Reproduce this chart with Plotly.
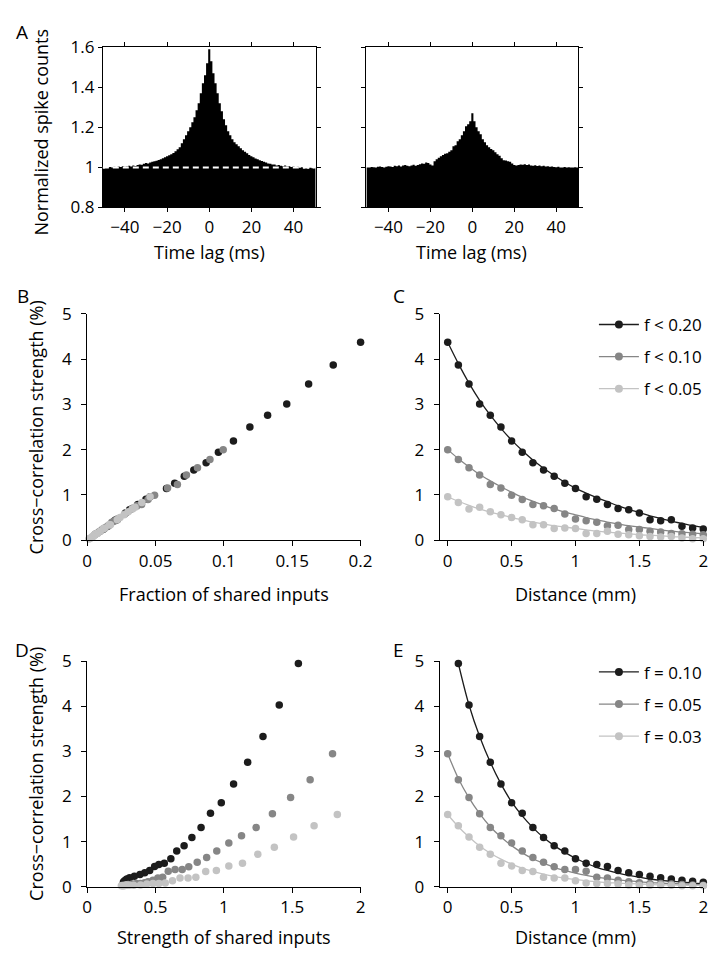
import plotly.graph_objects as go

W, H = 718, 958
FONT = "Open Sans"

# ---- panel A: cross-correlograms (1 ms bins, -50..50 ms) ----
lags = list(range(-50, 51))
ccg_strong = [
    0.995, 0.998, 1.000, 1.002, 0.999, 1.003, 1.001, 1.004, 1.002, 1.006,
    1.003, 1.005, 1.008, 1.004, 1.010, 1.007, 1.012, 1.015, 1.013, 1.018,
    1.022, 1.020, 1.025, 1.028, 1.030, 1.033, 1.037, 1.040, 1.046, 1.050,
    1.055, 1.060, 1.066, 1.072, 1.080, 1.090, 1.100, 1.120, 1.140, 1.160,
    1.180, 1.200, 1.225, 1.250, 1.285, 1.320, 1.370, 1.420, 1.460, 1.520,
    1.590,
    1.530, 1.470, 1.420, 1.370, 1.320, 1.280, 1.240, 1.210, 1.180, 1.160,
    1.140, 1.125, 1.115, 1.105, 1.095, 1.085, 1.078, 1.070, 1.062, 1.055,
    1.050, 1.044, 1.040, 1.035, 1.032, 1.028, 1.024, 1.020, 1.018, 1.014,
    1.015, 1.010, 1.012, 1.008, 1.006, 1.009, 1.004, 1.006, 1.002, 1.004,
    1.000, 1.003, 0.998, 1.001, 0.995, 0.997, 0.993, 0.998, 0.996, 1.000,
]
ccg_weak = [
    1.000, 1.000, 1.002, 1.001, 1.000, 1.003, 1.004, 1.002, 0.999, 1.003,
    1.006, 1.004, 1.002, 1.008, 1.006, 1.010, 1.005, 1.009, 1.012, 1.008,
    1.006, 1.010, 1.013, 1.008, 1.012, 1.016, 1.020, 1.018, 1.024, 1.022,
    1.015, 1.010, 1.030, 1.040, 1.048, 1.055, 1.062, 1.068, 1.070, 1.078,
    1.085, 1.105, 1.110, 1.130, 1.140, 1.160, 1.180, 1.205, 1.215, 1.230,
    1.270,
    1.230, 1.200, 1.180, 1.165, 1.140, 1.125, 1.110, 1.100, 1.092, 1.085,
    1.075, 1.065, 1.058, 1.045, 1.036, 1.034, 1.030, 1.028, 1.020, 1.012,
    1.010, 1.012, 1.015, 1.013, 1.016, 1.012, 1.014, 1.010, 1.008, 1.011,
    1.007, 1.009, 1.006, 1.008, 1.004, 1.006, 1.003, 1.005, 1.002, 1.001,
    1.003, 1.000, 0.999, 1.002, 1.000, 1.001, 0.999, 1.000, 1.001, 1.000,
]

# ---- panels B/C: distance dependence for three fraction cutoffs ----
distance = [i / 12 for i in range(25)]
c_f20 = [4.37, 3.87, 3.45, 3.01, 2.76, 2.50, 2.19, 1.94, 1.71, 1.55, 1.41, 1.26, 1.14,
         0.96, 0.905, 0.79, 0.70, 0.67, 0.60, 0.45, 0.43, 0.45, 0.31, 0.27, 0.25]
c_f10 = [2.00, 1.78, 1.60, 1.44, 1.23, 1.15, 0.99, 0.90, 0.79, 0.76, 0.70, 0.58, 0.47,
         0.43, 0.395, 0.32, 0.33, 0.235, 0.235, 0.20, 0.18, 0.15, 0.14, 0.13, 0.12]
c_f05 = [0.96, 0.83, 0.69, 0.73, 0.63, 0.56, 0.50, 0.45, 0.34, 0.34, 0.26, 0.27, 0.26,
         0.15, 0.15, 0.20, 0.13, 0.12, 0.10, 0.08, 0.07, 0.08, 0.05, 0.03, 0.03]
fit_f20 = [4.37, 3.90, 3.47, 3.09, 2.76, 2.47, 2.21, 1.98, 1.77, 1.59, 1.43, 1.28, 1.15,
           1.04, 0.94, 0.85, 0.76, 0.68, 0.61, 0.54, 0.48, 0.42, 0.37, 0.32, 0.28]
fit_f10 = [2.00, 1.80, 1.62, 1.45, 1.31, 1.18, 1.06, 0.95, 0.86, 0.77, 0.69, 0.62, 0.56,
           0.50, 0.45, 0.40, 0.36, 0.32, 0.29, 0.26, 0.23, 0.20, 0.18, 0.16, 0.14]
fit_f05 = [0.96, 0.86, 0.77, 0.69, 0.62, 0.56, 0.50, 0.45, 0.40, 0.36, 0.32, 0.29, 0.26,
           0.23, 0.20, 0.18, 0.16, 0.14, 0.12, 0.11, 0.10, 0.08, 0.07, 0.06, 0.05]
frac_f20 = [0.200, 0.180, 0.162, 0.146, 0.132, 0.119, 0.107, 0.096, 0.087, 0.078, 0.071, 0.064,
            0.058, 0.046, 0.043, 0.037, 0.033, 0.031, 0.028, 0.021, 0.020, 0.022, 0.015, 0.013, 0.012]
frac_f10 = [0.0995, 0.0898, 0.0807, 0.0726, 0.066, 0.0588, 0.0493, 0.0445, 0.0398, 0.0365,
            0.033, 0.0275, 0.022, 0.020, 0.018, 0.0155, 0.016, 0.0115, 0.011, 0.0095,
            0.0085, 0.007, 0.0065, 0.006, 0.0055]
frac_f05 = [0.046, 0.040, 0.033, 0.035, 0.030, 0.027, 0.024, 0.022, 0.017, 0.016, 0.012, 0.013,
            0.012, 0.007, 0.0075, 0.0095, 0.006, 0.0055, 0.005, 0.004, 0.0035, 0.004, 0.0025,
            0.0015, 0.0015]

# ---- panels D/E: distance dependence for fixed fractions ----
dist_e10 = distance[1:]
e_f10 = [4.95, 4.03, 3.33, 2.76, 2.28, 1.86, 1.63, 1.31, 1.09, 0.91, 0.79, 0.62,
         0.52, 0.49, 0.45, 0.36, 0.31, 0.27, 0.23, 0.20, 0.17, 0.14, 0.12, 0.10]
e_f05 = [2.95, 2.37, 1.98, 1.62, 1.31, 1.13, 0.97, 0.79, 0.645, 0.54, 0.44, 0.38, 0.38,
         0.34, 0.21, 0.19, 0.14, 0.11, 0.09, 0.07, 0.07, 0.06, 0.05, 0.04, 0.03]
e_f03 = [1.60, 1.35, 1.10, 0.875, 0.72, 0.52, 0.46, 0.36, 0.335, 0.21, 0.19, 0.19, 0.13,
         0.08, 0.07, 0.07, 0.06, 0.04, 0.03, 0.03, 0.04, 0.03, 0.02, 0.02, 0.02]
efit_f10 = [4.95, 4.03, 3.33, 2.76, 2.28, 1.88, 1.57, 1.31, 1.09, 0.91, 0.76, 0.63,
            0.52, 0.43, 0.36, 0.30, 0.25, 0.21, 0.17, 0.14, 0.12, 0.10, 0.08, 0.07]
efit_f05 = [2.95, 2.40, 1.97, 1.62, 1.33, 1.10, 0.91, 0.75, 0.62, 0.52, 0.43, 0.36, 0.30,
            0.25, 0.21, 0.18, 0.15, 0.13, 0.11, 0.09, 0.08, 0.07, 0.06, 0.05, 0.04]
efit_f03 = [1.60, 1.33, 1.10, 0.90, 0.74, 0.61, 0.50, 0.41, 0.34, 0.28, 0.23, 0.19, 0.16,
            0.13, 0.11, 0.09, 0.08, 0.07, 0.06, 0.05, 0.04, 0.04, 0.03, 0.03, 0.03]
strength_f10 = [1.545, 1.405, 1.286, 1.174, 1.071, 0.981, 0.902, 0.833, 0.766, 0.709, 0.655, 0.612,
                0.564, 0.524, 0.493, 0.457, 0.421, 0.386, 0.345, 0.31, 0.29, 0.279, 0.27, 0.265]
strength_f05 = [1.795, 1.631, 1.488, 1.355, 1.236, 1.129, 1.036, 0.948, 0.874, 0.805, 0.743, 0.695,
                0.643, 0.593, 0.552, 0.517, 0.481, 0.445, 0.42, 0.39, 0.36, 0.33, 0.30, 0.28, 0.26]
strength_f03 = [1.83, 1.66, 1.51, 1.369, 1.248, 1.136, 1.036, 0.945, 0.867, 0.795, 0.738, 0.679,
                0.624, 0.571, 0.524, 0.481, 0.436, 0.39, 0.34, 0.31, 0.29, 0.28, 0.27, 0.26, 0.25]

legend_c = ["f < 0.20", "f < 0.10", "f < 0.05"]
legend_e = ["f = 0.10", "f = 0.05", "f = 0.03"]

DARK, MID, LIGHT = "#1c1c1c", "#868686", "#c3c3c3"


def dom_x(p0, p1):
    return [p0 / W, p1 / W]


def dom_y(top, bottom):
    return [1 - bottom / H, 1 - top / H]


fig = go.Figure()

# A: histograms drawn as filled steps (bin edges at lag +/- 0.5)
for ax, vals in (("", ccg_strong), ("2", ccg_weak)):
    edges = [lag - 0.5 for lag in lags] + [lags[-1] + 0.5]
    fig.add_trace(go.Scatter(x=edges, y=vals + vals[-1:], mode="lines", line=dict(width=0, shape="hv"),
                             fill="tozeroy", fillcolor="black",
                             xaxis="x" + ax, yaxis="y" + ax, showlegend=False))

# B: strength vs fraction
for xs, ys, col in ((frac_f20, c_f20, DARK), (frac_f10, c_f10, MID), (frac_f05, c_f05, LIGHT)):
    fig.add_trace(go.Scatter(x=xs, y=ys, mode="markers", marker=dict(size=7.5, color=col),
                             xaxis="x3", yaxis="y3", showlegend=False, cliponaxis=False))

# C: strength vs distance with fits
for ys, fit, col, name in ((c_f20, fit_f20, DARK, legend_c[0]), (c_f10, fit_f10, MID, legend_c[1]),
                           (c_f05, fit_f05, LIGHT, legend_c[2])):
    fig.add_trace(go.Scatter(x=distance, y=fit, mode="lines", line=dict(color=col, width=1.3, shape="spline"),
                             xaxis="x4", yaxis="y4", showlegend=False, cliponaxis=False))
    fig.add_trace(go.Scatter(x=distance, y=ys, mode="markers", marker=dict(size=7.5, color=col),
                             xaxis="x4", yaxis="y4", showlegend=False, cliponaxis=False))
    fig.add_trace(go.Scatter(x=[None], y=[None], mode="lines+markers", name=name,
                             line=dict(color=col, width=1.3), marker=dict(size=8, color=col),
                             xaxis="x4", yaxis="y4", legend="legend", legendgroup=name))

# D: strength vs strength of shared inputs
for xs, ys, col in ((strength_f10, e_f10, DARK), (strength_f05, e_f05, MID), (strength_f03, e_f03, LIGHT)):
    fig.add_trace(go.Scatter(x=xs, y=ys, mode="markers", marker=dict(size=7.5, color=col),
                             xaxis="x5", yaxis="y5", showlegend=False, cliponaxis=False))

# E: strength vs distance with fits
for xs, ys, fit, col, name in ((dist_e10, e_f10, efit_f10, DARK, legend_e[0]),
                               (distance, e_f05, efit_f05, MID, legend_e[1]),
                               (distance, e_f03, efit_f03, LIGHT, legend_e[2])):
    fig.add_trace(go.Scatter(x=xs, y=fit, mode="lines", line=dict(color=col, width=1.3, shape="spline"),
                             xaxis="x6", yaxis="y6", showlegend=False, cliponaxis=False))
    fig.add_trace(go.Scatter(x=xs, y=ys, mode="markers", marker=dict(size=7.5, color=col),
                             xaxis="x6", yaxis="y6", showlegend=False, cliponaxis=False))
    fig.add_trace(go.Scatter(x=[None], y=[None], mode="lines+markers", name=name,
                             line=dict(color=col, width=1.3), marker=dict(size=8, color=col),
                             xaxis="x6", yaxis="y6", legend="legend2", legendgroup=name))

tickfont = dict(family=FONT, size=17, color="black")
box_axis = dict(showline=True, linecolor="black", linewidth=1, mirror="ticks", ticks="outside",
                ticklen=4, tickcolor="black", showgrid=False, zeroline=False, tickfont=tickfont)
open_axis = dict(showline=True, linecolor="black", linewidth=1.2, ticks="outside", ticklen=5,
                 tickcolor="black", tickwidth=1.2, showgrid=False, zeroline=False, tickfont=tickfont)

cc_ticks = dict(tickvals=[0, 1, 2, 3, 4, 5], range=[0, 5])
dist_ticks = dict(tickvals=[0, 0.5, 1, 1.5, 2], ticktext=["0", "0.5", "1", "1.5", "2"], range=[-0.063, 2])


def axis(base, **kw):
    out = dict(base)
    out.update(kw)
    return out


legend_style = dict(xanchor="left", yanchor="top", bgcolor="rgba(0,0,0,0)",
                    font=dict(family=FONT, size=17, color="black"), tracegroupgap=7, itemwidth=40)

fig.update_layout(
    width=W, height=H, margin=dict(l=0, r=0, t=0, b=0),
    plot_bgcolor="white", paper_bgcolor="white",
    font=dict(family=FONT, size=17, color="black"),
    xaxis=axis(box_axis, domain=dom_x(92, 310), range=[-50.5, 50.5], tickvals=[-40, -20, 0, 20, 40]),
    yaxis=axis(box_axis, domain=dom_y(28, 192), range=[0.8, 1.6], tickvals=[0.8, 1, 1.2, 1.4, 1.6],
               ticktext=["0.8", "1", "1.2", "1.4", "1.6"]),
    xaxis2=axis(box_axis, domain=dom_x(362, 579), range=[-50.5, 50.5], tickvals=[-40, -20, 0, 20, 40],
                anchor="y2"),
    yaxis2=axis(box_axis, domain=dom_y(28, 192), range=[0.8, 1.6], tickvals=[0.8, 1, 1.2, 1.4, 1.6],
                showticklabels=False, anchor="x2"),
    xaxis3=axis(open_axis, domain=dom_x(76, 356), range=[0, 0.2], tickvals=[0, 0.05, 0.1, 0.15, 0.2],
                ticktext=["0", "0.05", "0.1", "0.15", "0.2"], anchor="y3"),
    yaxis3=axis(open_axis, domain=dom_y(301, 533), anchor="x3", ticklabelstandoff=6, **cc_ticks),
    xaxis4=axis(open_axis, domain=dom_x(437, 707), anchor="y4", **dist_ticks),
    yaxis4=axis(open_axis, domain=dom_y(301, 533), anchor="x4", ticklabelstandoff=6, **cc_ticks),
    xaxis5=axis(open_axis, domain=dom_x(76, 356), range=[0, 2], tickvals=[0, 0.5, 1, 1.5, 2],
                ticktext=["0", "0.5", "1", "1.5", "2"], anchor="y5"),
    yaxis5=axis(open_axis, domain=dom_y(657, 888), anchor="x5", ticklabelstandoff=6, **cc_ticks),
    xaxis6=axis(open_axis, domain=dom_x(437, 707), anchor="y6", **dist_ticks),
    yaxis6=axis(open_axis, domain=dom_y(657, 888), anchor="x6", ticklabelstandoff=6, **cc_ticks),
    legend=dict(legend_style, x=595 / W, y=1 - 294 / H),
    legend2=dict(legend_style, x=595 / W, y=1 - 650 / H),
)

# white dashed reference line at 1 in the left correlogram
fig.add_shape(type="line", xref="x domain", yref="y", x0=0, x1=1, y0=1, y1=1,
              line=dict(color="white", width=2, dash="6px,4px"))


def label(text, px, py, size=18, angle=0):
    fig.add_annotation(text=text, x=px / W, y=1 - py / H, xref="paper", yref="paper",
                       showarrow=False, textangle=angle, xanchor="center", yanchor="middle",
                       font=dict(family=FONT, size=size, color="black"))


for letter, px, py in (("A", 9, 12), ("B", 10, 283), ("C", 395, 283), ("D", 9, 646), ("E", 395, 646)):
    label(letter, px, py, size=19)

label("Normalized spike counts", 29, 115, angle=-90)
label("Cross\u2212correlation strength (%)", 24, 417, angle=-90)
label("Cross\u2212correlation strength (%)", 24, 772, angle=-90)
label("Time lag (ms)", 201, 238)
label("Time lag (ms)", 470, 238)
label("Fraction of shared inputs", 216, 588)
label("Distance (mm)", 576, 588)
label("Strength of shared inputs", 216, 940)
label("Distance (mm)", 576, 940)

fig.write_html("out.html")
